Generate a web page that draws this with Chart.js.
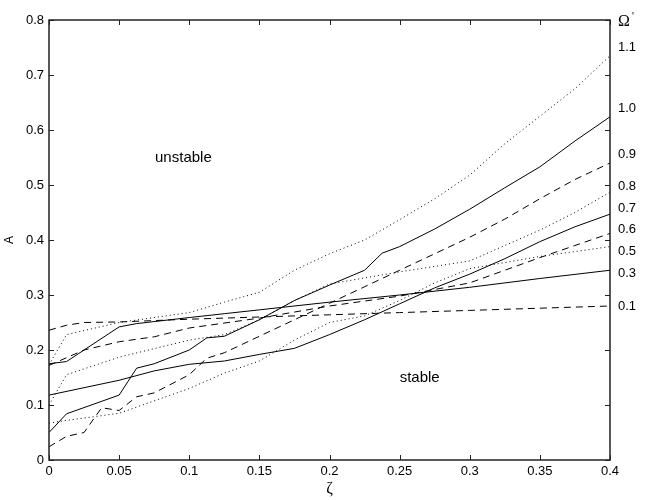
<!DOCTYPE html>
<html>
<head>
<meta charset="utf-8">
<script src="https://cdn.jsdelivr.net/npm/chart.js@4"></script>
<style>
  html, body { margin: 0; padding: 0; background: #fff; }
  #wrap { width: 647px; height: 500px; }
</style>
</head>
<body>
<div id="wrap"><canvas id="stabilityChart" width="647" height="500"></canvas></div>
<script>
// Stability boundary A(zeta) for several values of Omega'

// Omega' = 0.1 (dashed)
const zeta01 = [0, 0.0125, 0.025, 0.05, 0.1, 0.15, 0.2, 0.25, 0.3, 0.35, 0.4];
const amp01 = [0.236, 0.245, 0.25, 0.251, 0.256, 0.26, 0.264, 0.268, 0.272, 0.276, 0.28];

// Omega' = 0.3 (solid)
const zeta03 = [0, 0.0125, 0.05, 0.0625, 0.1, 0.125, 0.15, 0.2, 0.25, 0.3, 0.35, 0.4];
const amp03 = [0.175, 0.179, 0.242, 0.248, 0.259, 0.266, 0.273, 0.287, 0.3, 0.314, 0.33, 0.345];

// Omega' = 0.5 (dotted)
const zeta05 = [0, 0.0125, 0.05, 0.1, 0.125, 0.15, 0.175, 0.2, 0.225, 0.25, 0.275, 0.3, 0.35, 0.4];
const amp05 = [0.067, 0.072, 0.085, 0.13, 0.158, 0.18, 0.218, 0.25, 0.262, 0.29, 0.322, 0.348, 0.37, 0.388];

// Omega' = 0.6 (dashed)
const zeta06 = [0, 0.0125, 0.025, 0.05, 0.075, 0.1, 0.15, 0.2, 0.25, 0.3, 0.325, 0.35, 0.375, 0.4];
const amp06 = [0.172, 0.186, 0.2, 0.215, 0.224, 0.24, 0.258, 0.28, 0.298, 0.322, 0.345, 0.368, 0.39, 0.412];

// Omega' = 0.7 (solid)
const zeta07 = [0, 0.05, 0.075, 0.1, 0.125, 0.15, 0.175, 0.2, 0.225, 0.25, 0.275, 0.3, 0.325, 0.35, 0.375, 0.4];
const amp07 = [0.118, 0.145, 0.162, 0.174, 0.18, 0.192, 0.203, 0.228, 0.255, 0.284, 0.313, 0.338, 0.366, 0.397, 0.424, 0.447];

// Omega' = 0.8 (dotted)
const zeta08 = [0, 0.0125, 0.05, 0.1, 0.125, 0.15, 0.175, 0.2, 0.25, 0.3, 0.325, 0.35, 0.375, 0.4];
const amp08 = [0.1, 0.155, 0.187, 0.218, 0.228, 0.255, 0.29, 0.32, 0.342, 0.362, 0.39, 0.418, 0.45, 0.487];

// Omega' = 0.9 (dashed)
const zeta09 = [0, 0.0125, 0.025, 0.0375, 0.05, 0.0625, 0.075, 0.1, 0.1125, 0.125, 0.15, 0.175, 0.2, 0.225, 0.25, 0.275, 0.3, 0.325, 0.35, 0.375, 0.4];
const amp09 = [0.024, 0.043, 0.05, 0.095, 0.09, 0.115, 0.122, 0.155, 0.185, 0.195, 0.225, 0.255, 0.285, 0.315, 0.345, 0.375, 0.405, 0.438, 0.475, 0.51, 0.54];

// Omega' = 1.0 (solid)
const zeta10 = [0, 0.0125, 0.05, 0.0625, 0.075, 0.1, 0.1125, 0.125, 0.15, 0.175, 0.2, 0.225, 0.2375, 0.25, 0.275, 0.3, 0.325, 0.35, 0.375, 0.4];
const amp10 = [0.05, 0.084, 0.118, 0.167, 0.175, 0.2, 0.222, 0.225, 0.255, 0.29, 0.318, 0.345, 0.376, 0.388, 0.42, 0.456, 0.495, 0.533, 0.58, 0.624];

// Omega' = 1.1 (dotted)
const zeta11 = [0, 0.0125, 0.05, 0.1, 0.125, 0.15, 0.175, 0.2, 0.225, 0.25, 0.275, 0.3, 0.325, 0.35, 0.375, 0.4];
const amp11 = [0.173, 0.228, 0.25, 0.268, 0.287, 0.305, 0.345, 0.375, 0.4, 0.437, 0.475, 0.518, 0.575, 0.625, 0.675, 0.735];

// labels down the right-hand side and the A level each sits at
const omegaLabels = ['1.1', '1.0', '0.9', '0.8', '0.7', '0.6', '0.5', '0.3', '0.1'];
const omegaLabelA = [0.751, 0.64, 0.556, 0.498, 0.458, 0.42, 0.38, 0.34, 0.28];

// region notes: [text, zeta, A]
const regionNotes = [['unstable', 0.0756, 0.549], ['stable', 0.25, 0.149]];

const SANS = '"Liberation Sans", Arial, sans-serif';
const SERIF = '"Liberation Serif", "Times New Roman", serif';

const styles = {
  solid: [],
  dashed: [7, 5],
  dotted: [1, 3]
};

function series(xs, ys, style) {
  return {
    data: xs.map((x, i) => ({ x: x, y: ys[i] })),
    borderColor: '#000',
    borderWidth: 1,
    borderDash: styles[style],
    pointRadius: 0,
    fill: false,
    tension: 0
  };
}

// inward ticks on all four sides, a box round the plot, and text notes
const framePlugin = {
  id: 'frame',
  afterDraw(chart) {
    const ctx = chart.ctx;
    const area = chart.chartArea;
    const xs = chart.scales.x;
    const ys = chart.scales.y;
    ctx.save();
    ctx.strokeStyle = '#222';
    ctx.lineWidth = 1;
    ctx.beginPath();
    xs.ticks.forEach((t) => {
      const px = Math.round(xs.getPixelForValue(t.value)) + 0.5;
      ctx.moveTo(px, area.bottom);
      ctx.lineTo(px, area.bottom - 5);
      ctx.moveTo(px, area.top);
      ctx.lineTo(px, area.top + 5);
    });
    ys.ticks.forEach((t) => {
      const py = Math.round(ys.getPixelForValue(t.value)) + 0.5;
      ctx.moveTo(area.left, py);
      ctx.lineTo(area.left + 5, py);
      ctx.moveTo(area.right, py);
      ctx.lineTo(area.right - 5, py);
    });
    ctx.stroke();
    ctx.lineWidth = 1.5;
    ctx.strokeRect(area.left, area.top, area.right - area.left, area.bottom - area.top);

    ctx.fillStyle = '#000';
    ctx.textBaseline = 'middle';
    ctx.textAlign = 'left';
    ctx.font = '15px ' + SANS;
    regionNotes.forEach(([text, z, a]) => {
      ctx.fillText(text, xs.getPixelForValue(z), ys.getPixelForValue(a));
    });

    ctx.font = '13px ' + SANS;
    omegaLabels.forEach((text, i) => {
      ctx.fillText(text, area.right + 8, ys.getPixelForValue(omegaLabelA[i]));
    });
    ctx.font = '16px ' + SERIF;
    ctx.fillText('\u03A9', area.right + 8, area.top + 2);
    ctx.font = '10px ' + SANS;
    ctx.fillText('\'', area.right + 22, area.top - 3);
    ctx.restore();
  }
};

const ctx = document.getElementById('stabilityChart').getContext('2d');

new Chart(ctx, {
  type: 'line',
  data: {
    datasets: [
      series(zeta01, amp01, 'dashed'),
      series(zeta03, amp03, 'solid'),
      series(zeta05, amp05, 'dotted'),
      series(zeta06, amp06, 'dashed'),
      series(zeta07, amp07, 'solid'),
      series(zeta08, amp08, 'dotted'),
      series(zeta09, amp09, 'dashed'),
      series(zeta10, amp10, 'solid'),
      series(zeta11, amp11, 'dotted')
    ]
  },
  options: {
    responsive: false,
    animation: false,
    layout: { padding: { top: 20, right: 37, left: 0, bottom: 0 } },
    plugins: {
      legend: { display: false },
      tooltip: { enabled: false }
    },
    scales: {
      x: {
        type: 'linear',
        min: 0,
        max: 0.4,
        grid: { display: false, drawTicks: false },
        border: { display: false },
        ticks: {
          stepSize: 0.05,
          padding: 4,
          color: '#000',
          font: { family: SANS, size: 13 },
          callback: (v) => String(Math.round(v * 100) / 100)
        },
        title: {
          display: true,
          text: '\u03B6',
          color: '#000',
          font: { family: SERIF, size: 16 },
          padding: { top: 0, bottom: 2 }
        },
        afterFit: (scale) => { scale.height = 40; }
      },
      y: {
        type: 'linear',
        min: 0,
        max: 0.8,
        grid: { display: false, drawTicks: false },
        border: { display: false },
        ticks: {
          stepSize: 0.1,
          padding: 5,
          color: '#000',
          font: { family: SANS, size: 13 },
          callback: (v) => String(Math.round(v * 10) / 10)
        },
        title: {
          display: true,
          text: 'A',
          color: '#000',
          font: { family: SANS, size: 12 },
          padding: { top: 2, bottom: 0 }
        },
        afterFit: (scale) => { scale.width = 49; }
      }
    }
  },
  plugins: [framePlugin]
});
</script>
</body>
</html>
